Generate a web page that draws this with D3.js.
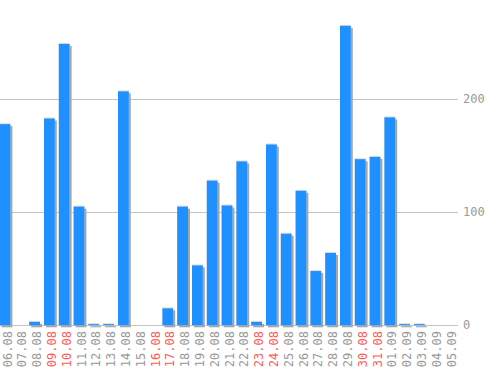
<!DOCTYPE html>
<html>
<head>
<meta charset="utf-8">
<script src="https://cdn.jsdelivr.net/npm/d3@7"></script>
<style>
  body { margin: 0; background: #fff; }
  svg { display: block; }
  text { font-family: "DejaVu Sans Mono", monospace; font-size: 12px; }
</style>
</head>
<body>
<div id="chart"></div>
<script>
var days = ['06.08','07.08','08.08','09.08','10.08','11.08','12.08','13.08','14.08','15.08',
    '16.08','17.08','18.08','19.08','20.08','21.08','22.08','23.08','24.08','25.08',
    '26.08','27.08','28.08','29.08','30.08','31.08','01.09','02.09','03.09','04.09','05.09'];
var counts = [178, 0, 3, 183, 249, 105, 1, 1, 207, 0,
    0, 15, 105, 53, 128, 106, 145, 3, 160, 81,
    119, 48, 64, 265, 147, 149, 184, 1, 1, 0, 0];
var weekend = ['09.08','10.08','16.08','17.08','23.08','24.08','30.08','31.08'];
var yTicks = [0, 100, 200];

var svgWidth = 498;
var svgHeight = 370;

var data = days.map((d, i) => ({day: d, count: counts[i]}));

var svg = d3.select('#chart').append('svg')
    .attr('width', svgWidth)
    .attr('height', svgHeight);

var x = d3.scaleBand()
    .domain(days)
    .range([-2.4, 456.4])
    .paddingInner(0.27)
    .paddingOuter(0.135);

var y = d3.scaleLinear()
    .domain([0, 100])
    .range([325.3, 212.3]);

// grid lines + right labels
var grid = svg.append('g');
grid.selectAll('line')
    .data(yTicks)
    .enter()
    .append('line')
    .attr('x1', 0)
    .attr('x2', 458)
    .attr('y1', d => Math.round(y(d)) + 0.5)
    .attr('y2', d => Math.round(y(d)) + 0.5)
    .attr('stroke', '#c4c4c4')
    .attr('stroke-width', 1);
grid.selectAll('text')
    .data(yTicks)
    .enter()
    .append('text')
    .attr('x', 463)
    .attr('y', d => Math.round(y(d)))
    .attr('dy', '0.35em')
    .attr('fill', '#999')
    .text(d => d);

// bars: shadow, highlight, body
var bars = svg.append('g');
bars.selectAll('.shadow')
    .data(data)
    .enter()
    .append('rect')
    .attr('class', 'shadow')
    .attr('x', d => x(d.day) + 2)
    .attr('y', d => y(d.count) + 2)
    .attr('width', x.bandwidth())
    .attr('height', d => y(0) - y(d.count))
    .attr('fill', '#a6a6a6');
bars.selectAll('.top')
    .data(data.filter(d => d.count > 0))
    .enter()
    .append('rect')
    .attr('class', 'top')
    .attr('x', d => x(d.day))
    .attr('y', d => y(d.count) - 1)
    .attr('width', x.bandwidth())
    .attr('height', d => y(0) - y(d.count) + 1)
    .attr('fill', '#dcdcdc');
bars.selectAll('.bar')
    .data(data)
    .enter()
    .append('rect')
    .attr('class', 'bar')
    .attr('x', d => x(d.day))
    .attr('y', d => y(d.count))
    .attr('width', x.bandwidth())
    .attr('height', d => y(0) - y(d.count))
    .attr('fill', '#1e90ff');

// x labels, rotated
svg.append('g')
    .selectAll('text')
    .data(days)
    .enter()
    .append('text')
    .attr('transform', d => `translate(${x(d) + x.bandwidth() / 2 + 6.5}, 331) rotate(-90)`)
    .attr('text-anchor', 'end')
    .attr('fill', d => weekend.includes(d) ? '#ff5a5a' : '#999')
    .text(d => d);
</script>
</body>
</html>
